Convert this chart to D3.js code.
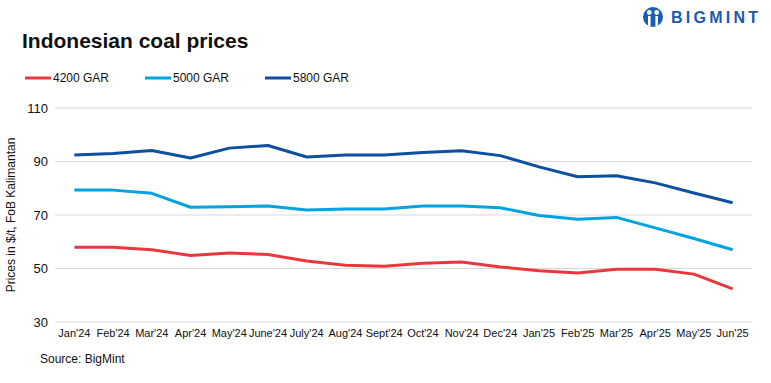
<!DOCTYPE html>
<html><head><meta charset="utf-8">
<script src="https://cdn.jsdelivr.net/npm/d3@7/dist/d3.min.js"></script>
<style>body{margin:0;background:#fff;}svg{display:block;font-family:"Liberation Sans",Arial,sans-serif;}</style>
</head><body><svg id="c" width="771" height="383"></svg>
<script>
const categories = ["Jan'24","Feb'24","Mar'24","Apr'24","May'24","June'24","July'24","Aug'24","Sept'24","Oct'24","Nov'24","Dec'24","Jan'25","Feb'25","Mar'25","Apr'25","May'25","Jun'25"];
const gar4200 = [57.9,57.9,57.0,54.9,55.8,55.2,52.8,51.2,50.8,52.0,52.4,50.6,49.2,48.3,49.7,49.7,47.9,42.4];
const gar5000 = [79.3,79.3,78.1,72.9,73.1,73.4,71.9,72.2,72.2,73.4,73.4,72.7,69.8,68.4,69.1,65.2,61.2,57.0];
const gar5800 = [92.4,93.0,94.1,91.3,95.0,96.0,91.7,92.4,92.4,93.4,94.0,92.2,88.0,84.3,84.7,82.0,78.2,74.6];
const yTicks = [30,50,70,90,110];
const seriesNames = ["4200 GAR","5000 GAR","5800 GAR"];
const seriesColors = ["#e8383d","#00a3e0","#0d4fa0"];

const svg = d3.select("#c");
const x = d3.scaleBand().domain(categories).range([55,752]);
const y = d3.scaleLinear().domain([30,110]).range([322,108]);

svg.append("text").attr("x",22).attr("y",48).attr("font-size",21).attr("font-weight","bold").attr("fill","#111").text("Indonesian coal prices");

// logo
const logo = svg.append("g");
logo.append("circle").attr("cx",653).attr("cy",17).attr("r",10).attr("fill","#1a5cb0");
logo.append("circle").attr("cx",649.3).attr("cy",12.5).attr("r",2.4).attr("fill","#fff");
logo.append("circle").attr("cx",656.7).attr("cy",12.5).attr("r",2.4).attr("fill","#fff");
logo.append("rect").attr("x",648).attr("y",16).attr("width",2.6).attr("height",10).attr("fill","#fff");
logo.append("rect").attr("x",655.4).attr("y",16).attr("width",2.6).attr("height",10).attr("fill","#fff");
logo.append("text").attr("x",671).attr("y",23).attr("font-size",16).attr("font-weight","bold")
  .attr("textLength",87).attr("lengthAdjust","spacing").attr("fill","#1a5cb0").text("BIGMINT");

// legend
const lx = [25,145,265];
seriesNames.forEach((n,i)=>{
  svg.append("line").attr("x1",lx[i]).attr("x2",lx[i]+26).attr("y1",78).attr("y2",78).attr("stroke",seriesColors[i]).attr("stroke-width",3);
  svg.append("text").attr("x",lx[i]+28).attr("y",82).attr("font-size",12).attr("fill","#111").text(n);
});

// grid
svg.append("g").selectAll("line").data(yTicks).join("line")
  .attr("x1",55).attr("x2",752).attr("y1",d=>y(d)).attr("y2",d=>y(d)).attr("stroke","#d9d9d9").attr("stroke-width",1);

const yAxis = d3.axisLeft(y).tickValues(yTicks).tickSize(0).tickPadding(0);
const ya = svg.append("g").attr("transform","translate(48,0)").call(yAxis);
ya.select(".domain").remove();
ya.selectAll("text").attr("font-size",13).attr("fill","#111").attr("font-family","Liberation Sans, Arial, sans-serif");

const xAxis = d3.axisBottom(x).tickSize(0).tickPadding(0);
const xa = svg.append("g").attr("transform","translate(0,329)").call(xAxis);
xa.select(".domain").remove();
xa.selectAll("text").attr("font-size",11).attr("fill","#111").attr("font-family","Liberation Sans, Arial, sans-serif");

svg.append("text").attr("transform","translate(15,215) rotate(-90)").attr("text-anchor","middle").attr("font-size",12).attr("fill","#111").text("Prices in $/t, FoB Kalimantan");

const line = d3.line().x((d,i)=>x(categories[i])+x.bandwidth()/2).y(d=>y(d));
[gar4200,gar5000,gar5800].forEach((s,i)=>{
  svg.append("path").datum(s).attr("d",line).attr("fill","none").attr("stroke",seriesColors[i]).attr("stroke-width",3).attr("stroke-linejoin","round");
});

svg.append("text").attr("x",40).attr("y",363).attr("font-size",12).attr("fill","#111").text("Source: BigMint");
</script></body></html>
